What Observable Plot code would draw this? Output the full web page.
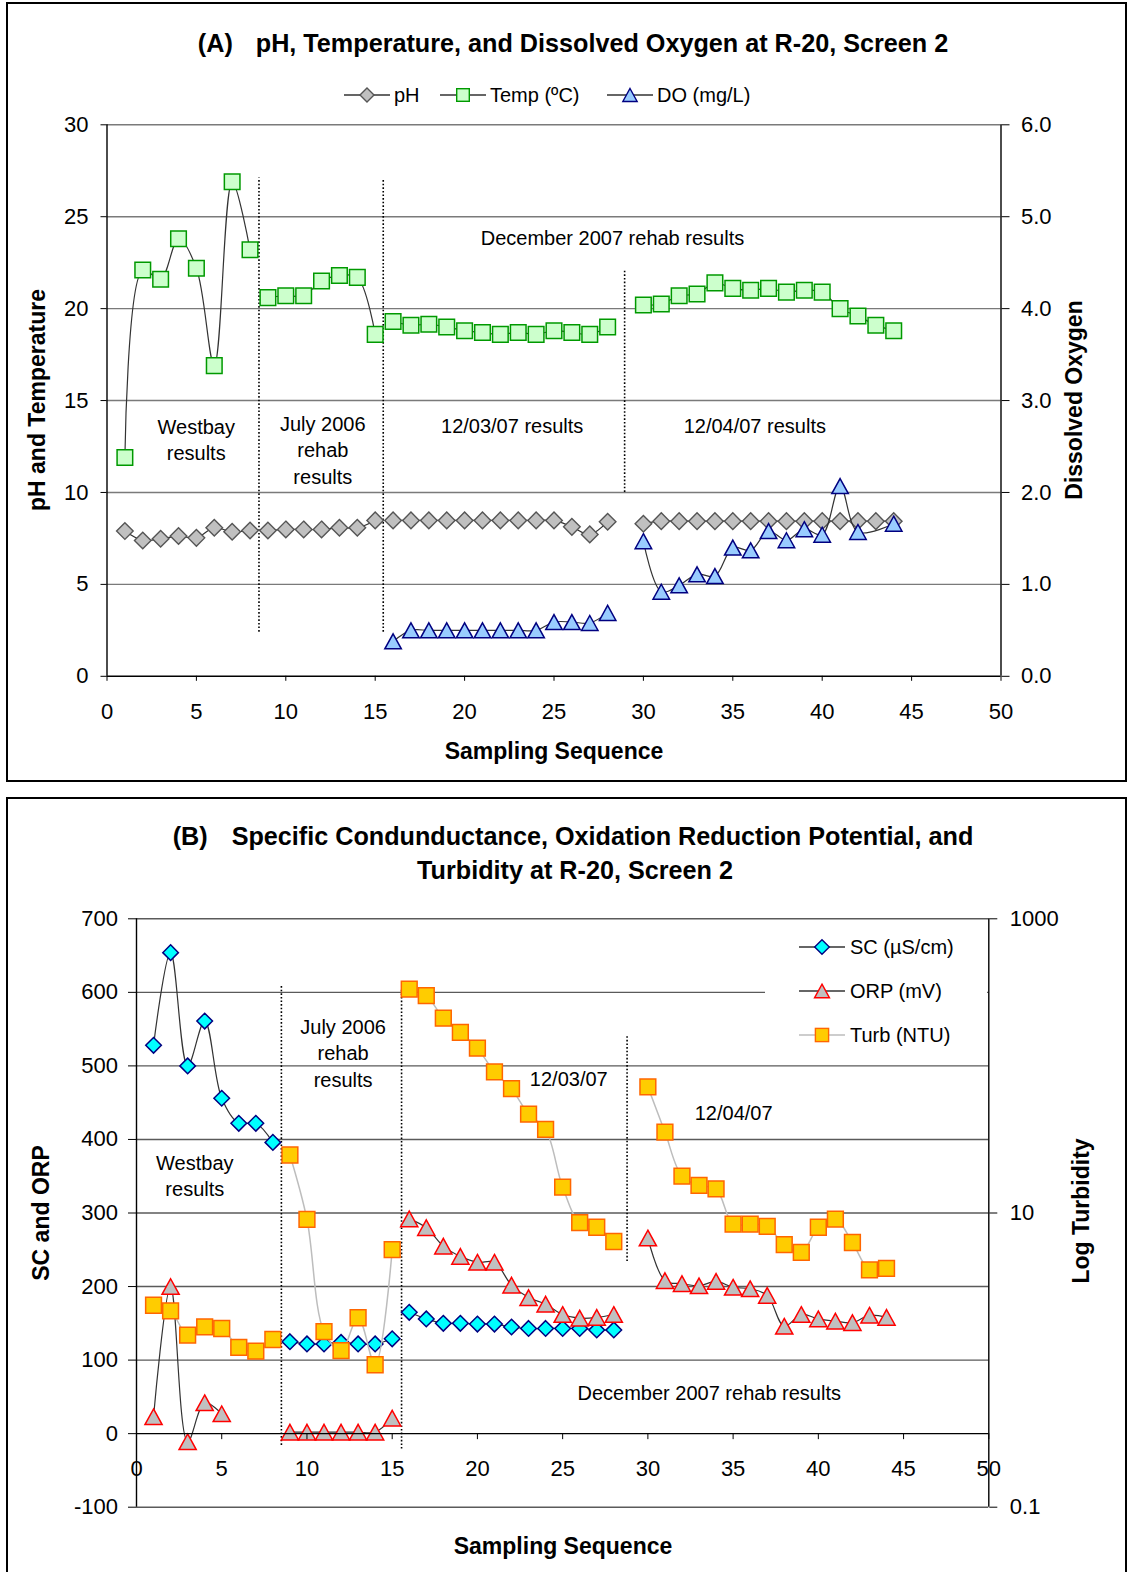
<!DOCTYPE html>
<html><head><meta charset="utf-8">
<script src="https://cdn.jsdelivr.net/npm/d3@7"></script>
<script src="https://cdn.jsdelivr.net/npm/@observablehq/plot@0.6"></script>
<style>
body{margin:0;background:#fff;font-family:"Liberation Sans",Arial,sans-serif;}
#page{position:relative;width:1128px;height:1572px;overflow:hidden;background:#fff;}
.abs{position:absolute;white-space:nowrap;color:#000;line-height:1.2;}
.frame{position:absolute;border:2px solid #000;box-sizing:border-box;}
.title{font-weight:bold;font-size:25.2px;transform:translate(-50%,-50%);}
.axt{font-weight:bold;font-size:23px;transform:translate(-50%,-50%);}
.rot{transform:translate(-50%,-50%) rotate(-90deg);}
.leg{font-size:20px;display:flex;align-items:center;transform:translateY(-50%);}
</style></head>
<body><div id="page"></div>
<script>
// ---------- DATA ----------
const xTicks = [0,5,10,15,20,25,30,35,40,45,50];
const yTicksA = [0,5,10,15,20,25,30];
const yTicksB = [-100,0,100,200,300,400,500,600,700];

const seqA = d3.range(1,29).concat(d3.range(30,45));
const phA = [7.90,7.39,7.48,7.63,7.53,8.08,7.86,7.93, 7.93,7.99,7.99,7.99,8.08,8.08,8.48,
  8.48,8.48,8.48,8.48,8.48,8.48,8.48,8.48,8.48,8.48,8.13,7.72,8.41,
  8.30,8.44,8.44,8.44,8.44,8.44,8.44,8.44,8.44,8.44,8.44,8.44,8.44,8.44,8.44];
const tempA = [11.9,22.1,21.6,23.8,22.2,16.9,26.9,23.2, 20.6,20.7,20.7,21.5,21.8,21.7,18.6,
  19.3,19.1,19.15,19.0,18.8,18.7,18.6,18.7,18.6,18.8,18.7,18.6,19.0,
  20.2,20.25,20.7,20.8,21.4,21.1,21.0,21.1,20.9,21.0,20.9,20.0,19.6,19.1,18.8];
const doSeq = d3.range(16,29).concat(d3.range(30,43)).concat([44]);
const doA = [0.38,0.50,0.50,0.50,0.50,0.50,0.50,0.50,0.50,0.59,0.59,0.58,0.69,
  1.47,0.92,0.99,1.11,1.09,1.40,1.37,1.58,1.48,1.60,1.54,2.07,1.57,1.66];

const scSeq = d3.range(1,29);
const scB = [528,654,500,561,456,422,422,396, 125,122,122,124,122,122,129,
  165,156,150,150,149,149,145,143,143,143,143,141,141];
const orpSeq = d3.range(1,6).concat(d3.range(9,29)).concat(d3.range(30,45));
const orpB = [23,200,-11,42,27, 2,2,2,2,2,2,21,
  292,280,255,241,233,233,202,185,176,162,157,158,162,
  266,208,204,201,207,199,197,188,146,162,156,153,151,161,158];
const turbSeq = d3.range(1,29).concat(d3.range(30,45));
const turbB = [2.36,2.16,1.48,1.68,1.64,1.22,1.15,1.38, 24.8,9.06,1.56,1.16,1.94,0.93,5.64,
  333,300,211,169,132,91,70,47,37,15,8.6,8.0,6.4,
  72,35.5,17.8,15.4,14.6,8.4,8.4,8.1,6.1,5.4,8.0,9.1,6.3,4.1,4.2];

const dividersA = [{x:8.5,y1:2.4,y2:27.1},{x:15.45,y1:2.4,y2:27.0},{x:28.95,y1:10.0,y2:22.1}];
const dividersB = [{x:8.5,y1:-16,y2:610},{x:15.55,y1:-21,y2:603},{x:28.78,y1:234,y2:541}];
const notesA = [
  {x:28.27,y:23.9,t:"December 2007 rehab results"},
  {x:4.99,y:12.94,t:"Westbay\nresults"},
  {x:12.07,y:12.38,t:"July 2006\nrehab\nresults"},
  {x:22.66,y:13.68,t:"12/03/07 results"},
  {x:36.23,y:13.68,t:"12/04/07 results"}];
const notesB = [
  {x:12.12,y:519,t:"July 2006\nrehab\nresults"},
  {x:3.42,y:352.5,t:"Westbay\nresults"},
  {x:25.36,y:484,t:"12/03/07"},
  {x:35.03,y:437.7,t:"12/04/07"},
  {x:33.6,y:58,t:"December 2007 rehab results"}];

// ---------- helpers ----------
const FONT = '"Liberation Sans", Arial, sans-serif';
const seg = x => x <= 8 ? 0 : x <= 15 ? 1 : x <= 28 ? 2 : 3;
const rows = (xs, vs, f = v => v) => xs.map((x, i) => ({x, v: f(vs[i]), seg: seg(x)}));
const symSquare = {draw(c, s){const h = Math.sqrt(s/Math.PI); c.rect(-h,-h,2*h,2*h);}};
const symDiamond = {draw(c, s){const h = Math.sqrt(s/Math.PI); c.moveTo(0,-h); c.lineTo(h,0); c.lineTo(0,h); c.lineTo(-h,0); c.closePath();}};
const symTriangle = {draw(c, s){const h = Math.sqrt(s/Math.PI); c.moveTo(0,-h); c.lineTo(1.1*h,h); c.lineTo(-1.1*h,h); c.closePath();}};

const page = document.getElementById("page");
function add(html){ page.insertAdjacentHTML("beforeend", html); }
function place(svg, top){ svg.style.position = "absolute"; svg.style.left = "0px"; svg.style.top = top + "px"; svg.style.maxWidth = "none"; page.appendChild(svg); }

// ---------- PANEL A ----------
const A = {top:0, height:790, mt:124.3, mb:790-675.8, ml:106.5, mr:1128-1000.5};
const phRows = rows(seqA, phA), tempRows = rows(seqA, tempA), doRows = rows(doSeq, doA, v => v*5);
const plotA = Plot.plot({
  width:1128, height:A.height, marginTop:A.mt, marginBottom:A.mb, marginLeft:A.ml, marginRight:A.mr,
  style:{background:"transparent", fontFamily:FONT, fontSize:"22px", color:"#000", overflow:"visible"},
  x:{domain:[0,50]}, y:{domain:[0,30]},
  marks:[
    Plot.ruleY(yTicksA.filter(d => d > 0), {stroke:"#7a7a7a", strokeWidth:1.4}),
    Plot.ruleX(dividersA, {x:"x", y1:"y1", y2:"y2", stroke:"#000", strokeWidth:1.6, strokeDasharray:"1.6,2"}),
    Plot.text(notesA, {x:"x", y:"y", text:"t", fontSize:20, lineHeight:1.33}),
    Plot.line(phRows, {x:"x", y:"v", z:"seg", curve:"catmull-rom", stroke:"#333", strokeWidth:1.2}),
    Plot.dot(phRows, {x:"x", y:"v", symbol:symDiamond, r:8.3, fill:"#c0c0c0", stroke:"#555", strokeWidth:1.4}),
    Plot.line(tempRows, {x:"x", y:"v", z:"seg", curve:"catmull-rom", stroke:"#333", strokeWidth:1.2}),
    Plot.dot(tempRows, {x:"x", y:"v", symbol:symSquare, r:7.8, fill:"#ccffcc", stroke:"#009900", strokeWidth:1.5}),
    Plot.line(doRows, {x:"x", y:"v", z:"seg", curve:"catmull-rom", stroke:"#333", strokeWidth:1.2}),
    Plot.dot(doRows, {x:"x", y:"v", symbol:symTriangle, r:7.5, fill:"#99ccff", stroke:"#000080", strokeWidth:1.5}),
    Plot.ruleX([0,50], {stroke:"#000", strokeWidth:1.4}),
    Plot.ruleY([0], {stroke:"#000", strokeWidth:1.4}),
    Plot.axisX({ticks:xTicks, tickSize:5, tickPadding:22, label:null, tickFormat:d => String(d)}),
    Plot.axisY({ticks:yTicksA, tickSize:6, tickPadding:12.5, label:null, tickFormat:d => String(d)}),
    Plot.axisY({anchor:"right", ticks:yTicksA, tickSize:8, tickPadding:12, label:null, tickFormat:d => (d/5).toFixed(1)})
  ]
});

// ---------- PANEL B ----------
const B = {top:800, height:772, mt:918.3-800, mb:1572-1506.7, ml:136, mr:1128-988.3};
const turbY = t => 300 + 200*(Math.log10(t) - 1);
const scRows = rows(scSeq, scB), orpRows = rows(orpSeq, orpB), turbRows = rows(turbSeq, turbB, turbY);
const yScaleB = Plot.scale({y:{domain:[-100,700], range:[B.height - B.mb, B.mt]}});
const zeroShift = yScaleB.apply(0) - yScaleB.apply(-100);
const plotB = Plot.plot({
  width:1128, height:B.height, marginTop:B.mt, marginBottom:B.mb, marginLeft:B.ml, marginRight:B.mr,
  style:{background:"transparent", fontFamily:FONT, fontSize:"22px", color:"#000", overflow:"visible"},
  x:{domain:[0,50]}, y:{domain:[-100,700]},
  marks:[
    Plot.ruleY(yTicksB.filter(d => d !== 0), {stroke:"#5a5a5a", strokeWidth:1.4}),
    Plot.ruleX(dividersB, {x:"x", y1:"y1", y2:"y2", stroke:"#000", strokeWidth:1.6, strokeDasharray:"1.6,2"}),
    Plot.text(notesB, {x:"x", y:"y", text:"t", fontSize:20, lineHeight:1.33}),
    Plot.line(scRows, {x:"x", y:"v", z:"seg", curve:"catmull-rom", stroke:"#333", strokeWidth:1.2}),
    Plot.dot(scRows, {x:"x", y:"v", symbol:symDiamond, r:7.8, fill:"#00ffff", stroke:"#000080", strokeWidth:1.5}),
    Plot.line(orpRows, {x:"x", y:"v", z:"seg", curve:"catmull-rom", stroke:"#333", strokeWidth:1.2}),
    Plot.dot(orpRows, {x:"x", y:"v", symbol:symTriangle, r:7.8, fill:"#c0c0c0", stroke:"#ff0000", strokeWidth:1.5}),
    Plot.line(turbRows, {x:"x", y:"v", z:"seg", curve:"catmull-rom", stroke:"#bdbdbd", strokeWidth:1.5}),
    Plot.dot(turbRows, {x:"x", y:"v", symbol:symSquare, r:7.9, fill:"#ffcc00", stroke:"#ff6600", strokeWidth:1.5}),
    Plot.ruleX([0,50], {stroke:"#000", strokeWidth:1.4}),
    Plot.ruleY([0], {stroke:"#000", strokeWidth:1.4}),
    Plot.axisX({ticks:xTicks, tickSize:6, tickPadding:21, dy:zeroShift, label:null, tickFormat:d => String(d)}),
    Plot.axisY({ticks:yTicksB, tickSize:8, tickPadding:10.5, label:null, tickFormat:d => String(d)}),
    Plot.axisY({anchor:"right", ticks:[-100,300,700], tickSize:8, tickPadding:13, label:null,
      tickFormat:d => String(+Math.pow(10, 1 + (d - 300)/200).toPrecision(3))})
  ]
});

// ---------- frames, titles, legends ----------
add(`<div class="frame" style="left:6px;top:2px;width:1121px;height:780px"></div>`);
add(`<div class="frame" style="left:6px;top:797px;width:1121px;height:800px"></div>`);
place(plotA, A.top);
place(plotB, B.top);

add(`<div class="abs title" style="left:573px;top:43px"><span>(A)</span><span style="margin-left:23px">pH, Temperature, and Dissolved Oxygen at R-20, Screen 2</span></div>`);
add(`<div class="abs axt rot" style="left:38px;top:400px">pH and Temperature</div>`);
add(`<div class="abs axt rot" style="left:1075px;top:400px">Dissolved Oxygen</div>`);
add(`<div class="abs axt" style="left:554px;top:752px">Sampling Sequence</div>`);

add(`<div class="abs title" style="left:573px;top:836px"><span>(B)</span><span style="margin-left:24px">Specific Condunductance, Oxidation Reduction Potential, and</span></div>`);
add(`<div class="abs title" style="left:575px;top:870px">Turbidity at R-20, Screen 2</div>`);
add(`<div class="abs axt rot" style="left:42px;top:1213px">SC and ORP</div>`);
add(`<div class="abs axt rot" style="left:1082px;top:1211px">Log Turbidity</div>`);
add(`<div class="abs axt" style="left:563px;top:1547px">Sampling Sequence</div>`);

function glyph(shape, fill, stroke, line, h){
  const w = 46, c = 23, m = 11;
  let p;
  if (shape === "square") p = `<rect x="${c-h}" y="${m-h}" width="${2*h}" height="${2*h}"/>`;
  else if (shape === "diamond") p = `<path d="M${c},${m-h}L${c+h},${m}L${c},${m+h}L${c-h},${m}Z"/>`;
  else p = `<path d="M${c},${m-h}L${c+1.1*h},${m+h}L${c-1.1*h},${m+h}Z"/>`;
  return `<svg width="${w}" height="22" style="display:block;overflow:visible"><line x1="0" x2="${w}" y1="${m}" y2="${m}" stroke="${line}" stroke-width="1.3"/><g fill="${fill}" stroke="${stroke}" stroke-width="1.4">${p}</g></svg>`;
}
const legA = [
  {left:344, g:glyph("diamond","#c0c0c0","#555","#333",7), t:"pH"},
  {left:440, g:glyph("square","#ccffcc","#009900","#333",6.3), t:"Temp (ºC)"},
  {left:607, g:glyph("triangle","#99ccff","#000080","#333",6.5), t:"DO (mg/L)"}];
legA.forEach(d => add(`<div class="abs leg" style="left:${d.left}px;top:95px">${d.g}<span style="margin-left:4px">${d.t}</span></div>`));

add(`<div class="abs" style="left:765px;top:920px;width:222px;height:141px;background:#fff"></div>`);
const legB = [
  {top:947, g:glyph("diamond","#00ffff","#000080","#333",7.3), t:"SC (µS/cm)"},
  {top:991, g:glyph("triangle","#c0c0c0","#ff0000","#333",6.8), t:"ORP (mV)"},
  {top:1035, g:glyph("square","#ffcc00","#ff6600","#bdbdbd",6.6), t:"Turb (NTU)"}];
legB.forEach(d => add(`<div class="abs leg" style="left:799px;top:${d.top}px">${d.g}<span style="margin-left:5px">${d.t}</span></div>`));
</script>
</body></html>
